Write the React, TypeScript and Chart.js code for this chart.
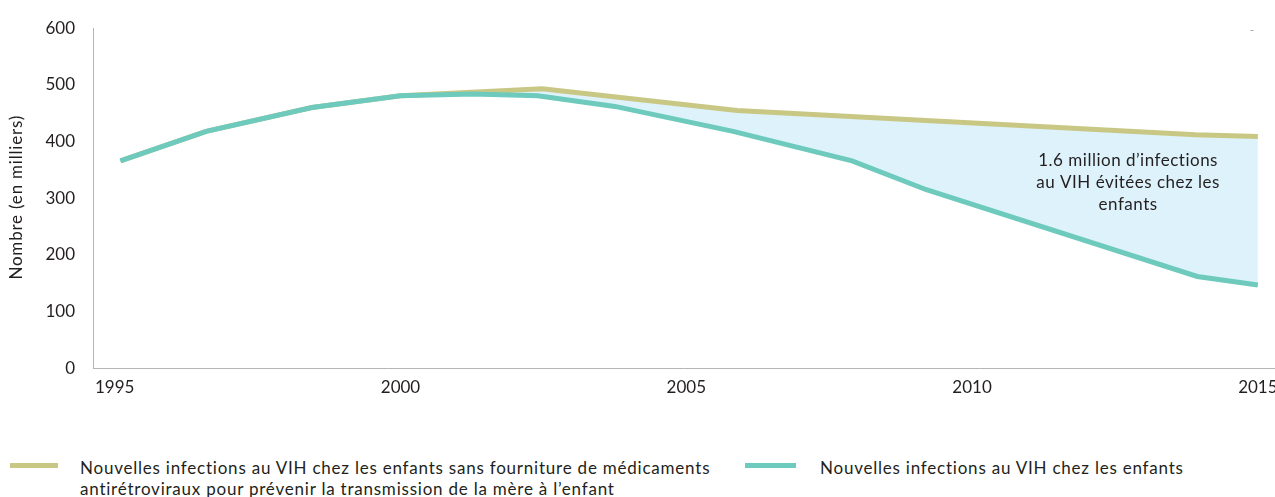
import React, { useEffect, useRef } from "react";
import { Chart, registerables } from "chart.js";

Chart.register(...registerables);

// Axis tick labels
const YEAR_TICKS = [1995, 2000, 2005, 2010, 2015];
const Y_TICK_STEP = 100;

// New HIV infections among children (thousands)
const childYears = [1995.1, 1996.6, 1998.45, 2000.0, 2001.27, 2002.4, 2003.75, 2005.82, 2007.9, 2009.2, 2013.94, 2015.0];
const childValues = [366, 418, 460, 481, 484, 481, 462, 418, 366, 315, 162, 147];

// New HIV infections among children without antiretroviral medicines for PMTCT (thousands)
const noArvYears = [1995.1, 1996.6, 1998.45, 2000.0, 2002.48, 2005.89, 2013.91, 2015.0];
const noArvValues = [366, 418, 460, 481, 493, 455, 412, 409];

const LABEL_NO_ARV = [
  "Nouvelles infections au VIH chez les enfants sans fourniture de médicaments",
  "antirétroviraux pour prévenir la transmission de la mère à l’enfant",
];
const LABEL_CHILD = "Nouvelles infections au VIH chez les enfants";
const Y_TITLE = "Nombre (en milliers)";
const AVERTED_TEXT = ["1.6 million d’infections", "au VIH évitées chez les", "enfants"];

const TEAL = "#6dcabd";
const OLIVE = "#c9c784";
const AVERTED_FILL = "#ddf2fa";
const TEXT = "#231f20";
const AXIS = "#b5b5b5";
const FONT = "Lato, 'Open Sans', sans-serif";

// Draws the y-axis title (with letter spacing) and the note inside the shaded area
const annotationPlugin = {
  id: "avertedNote",
  afterDraw(chart: any) {
    const { ctx, scales, chartArea } = chart;
    ctx.save();
    ctx.fillStyle = TEXT;
    ctx.textAlign = "center";
    ctx.textBaseline = "middle";

    // y-axis title
    ctx.save();
    ctx.translate(17, (chartArea.top + chartArea.bottom) / 2 - 1);
    ctx.rotate(-Math.PI / 2);
    ctx.font = `17px ${FONT}`;
    (ctx as any).letterSpacing = "0.8px";
    ctx.fillText(Y_TITLE, 0, 0);
    ctx.restore();

    // note in the shaded area
    const x = scales.x.getPixelForValue(2012.73);
    const y = scales.y.getPixelForValue(367);
    ctx.font = `17px ${FONT}`;
    (ctx as any).letterSpacing = "0.5px";
    AVERTED_TEXT.forEach((line, i) => ctx.fillText(line, x, y + i * 22));

    (ctx as any).letterSpacing = "0px";
    ctx.fillStyle = "#9a9a9a";
    ctx.font = `12px ${FONT}`;
    ctx.fillText("-", chartArea.right - 23, chartArea.top + 2);
    ctx.restore();
  },
};

export default function App() {
  const canvasRef = useRef<HTMLCanvasElement | null>(null);

  useEffect(() => {
    if (!canvasRef.current) return;
    const chart = new Chart(canvasRef.current, {
      type: "line",
      data: {
        datasets: [
          {
            label: LABEL_CHILD,
            data: childYears.map((x, i) => ({ x, y: childValues[i] })),
            borderColor: TEAL,
            backgroundColor: AVERTED_FILL,
            borderWidth: 5,
            pointRadius: 0,
            tension: 0,
            fill: { target: 1 },
          },
          {
            label: LABEL_NO_ARV.join(" "),
            data: noArvYears.map((x, i) => ({ x, y: noArvValues[i] })),
            borderColor: OLIVE,
            borderWidth: 5,
            pointRadius: 0,
            tension: 0,
            fill: false,
          },
        ],
      },
      options: {
        animation: false,
        responsive: false,
        maintainAspectRatio: false,
        layout: { padding: { top: 27, right: 0, left: 0, bottom: 13.3 } },
        plugins: {
          legend: { display: false },
          tooltip: { enabled: false },
          filler: { drawTime: "beforeDatasetsDraw" },
        },
        scales: {
          x: {
            type: "linear",
            min: 1994.62,
            max: 2015.3,
            grid: { display: false, drawTicks: false },
            border: { display: true, color: AXIS, width: 1 },
            ticks: {
              color: TEXT,
              font: { family: FONT, size: 17 },
              padding: 9,
              maxRotation: 0,
              callback: (v: any) => String(v),
            },
            afterBuildTicks: (axis: any) => {
              axis.ticks = YEAR_TICKS.map((value) => ({ value }));
            },
            afterFit: (axis: any) => {
              axis.paddingRight = 0;
              axis.paddingLeft = 0;
            },
          },
          y: {
            min: 0,
            max: 600,
            grid: { display: false, drawTicks: false },
            border: { display: true, color: AXIS, width: 1 },
            ticks: {
              stepSize: Y_TICK_STEP,
              color: TEXT,
              font: { family: FONT, size: 17 },
              padding: 18,
            },
            afterFit: (axis: any) => {
              axis.width = 93;
            },
          },
        },
      },
      plugins: [annotationPlugin],
    });
    return () => chart.destroy();
  }, []);

  const legendText: React.CSSProperties = {
    position: "absolute",
    top: 457,
    fontFamily: FONT,
    fontSize: 17,
    lineHeight: "21px",
    letterSpacing: "0.78px",
    color: TEXT,
    whiteSpace: "nowrap",
  };
  const marker: React.CSSProperties = { position: "absolute", top: 463, height: 5 };

  return (
    <div style={{ position: "fixed", left: 0, top: 0, width: 1275, height: 497, background: "#fff", overflow: "hidden" }}>
      <canvas ref={canvasRef} width={1275} height={420} style={{ position: "absolute", left: 0, top: 0 }} />
      <div style={{ ...marker, left: 10, width: 48, background: OLIVE }} />
      <div style={{ ...legendText, left: 80 }}>
        {LABEL_NO_ARV[0]}
        <br />
        {LABEL_NO_ARV[1]}
      </div>
      <div style={{ ...marker, left: 745, width: 51, background: TEAL }} />
      <div style={{ ...legendText, left: 820 }}>{LABEL_CHILD}</div>
    </div>
  );
}
